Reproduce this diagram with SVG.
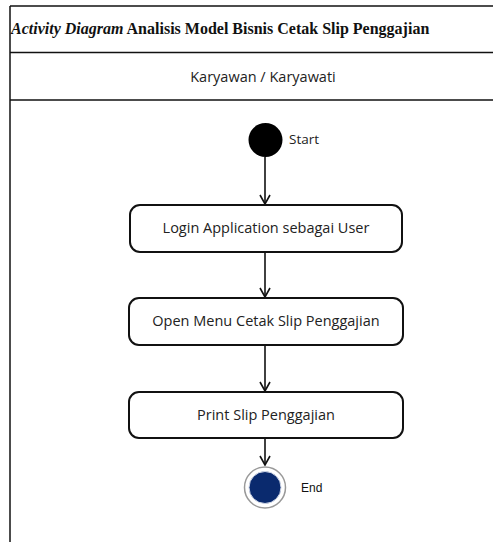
<svg xmlns="http://www.w3.org/2000/svg" width="493" height="542" viewBox="0 0 493 542">
<defs>
<marker id="arr" markerWidth="12" markerHeight="12" refX="11" refY="6" orient="auto" markerUnits="userSpaceOnUse" viewBox="0 0 12 12">
<path d="M2,1 L11,6 L2,11" fill="none" stroke="#111" stroke-width="1.6"/>
</marker>
<style>
.frame{stroke:#111;stroke-width:1.5;fill:none}
.box{fill:#fff;stroke:#111;stroke-width:2}
.lbl{font-family:"Open Sans","Noto Sans",sans-serif;font-size:14.5px;fill:#222;text-anchor:middle}
.conn{stroke:#111;stroke-width:1.6;fill:none;marker-end:url(#arr)}
.side{font-family:"Liberation Sans",Arial,sans-serif;font-size:12px;fill:#111}
</style>
</defs>
<rect width="493" height="542" fill="#fff"/>
<g id="frame">
<line class="frame" x1="10" y1="6" x2="493" y2="6"/>
<line class="frame" x1="10" y1="6" x2="10" y2="542"/>
<line class="frame" x1="10" y1="52.5" x2="493" y2="52.5"/>
<line class="frame" x1="10" y1="100" x2="493" y2="100" stroke="#444"/>
<text x="11" y="34" font-family="Liberation Serif,serif" font-size="16" font-weight="bold" fill="#111"><tspan font-style="italic">Activity Diagram</tspan> Analisis Model Bisnis Cetak Slip Penggajian</text>
<text class="lbl" x="263" y="82">Karyawan / Karyawati</text>
</g>
<g id="connectors">
<line class="conn" x1="265" y1="157" x2="265" y2="204"/>
<line class="conn" x1="265" y1="253" x2="265" y2="297"/>
<line class="conn" x1="265" y1="346" x2="265" y2="391"/>
<line class="conn" x1="265" y1="439" x2="265" y2="465"/>
</g>
<g id="start">
<circle cx="265.5" cy="140" r="17" fill="#000"/>
<text class="lbl" x="289" y="144" style="text-anchor:start;font-size:13.5px">Start</text>
</g>
<g id="login">
<rect class="box" x="130" y="205" width="272" height="47" rx="10"/>
<text class="lbl" x="266" y="233">Login Application sebagai User</text>
</g>
<g id="open-menu">
<rect class="box" x="129" y="298" width="274" height="47" rx="10"/>
<text class="lbl" x="266" y="326">Open Menu Cetak Slip Penggajian</text>
</g>
<g id="print">
<rect class="box" x="129" y="392" width="274" height="46" rx="10"/>
<text class="lbl" x="266" y="420">Print Slip Penggajian</text>
</g>
<g id="end">
<circle cx="265" cy="487.5" r="20.5" fill="#fff" stroke="#999" stroke-width="1.5"/>
<circle cx="265" cy="487.5" r="16" fill="#0a2a6e" stroke="#cfd6e6" stroke-width="1"/>
<text class="side" x="301" y="492">End</text>
</g>
</svg>
